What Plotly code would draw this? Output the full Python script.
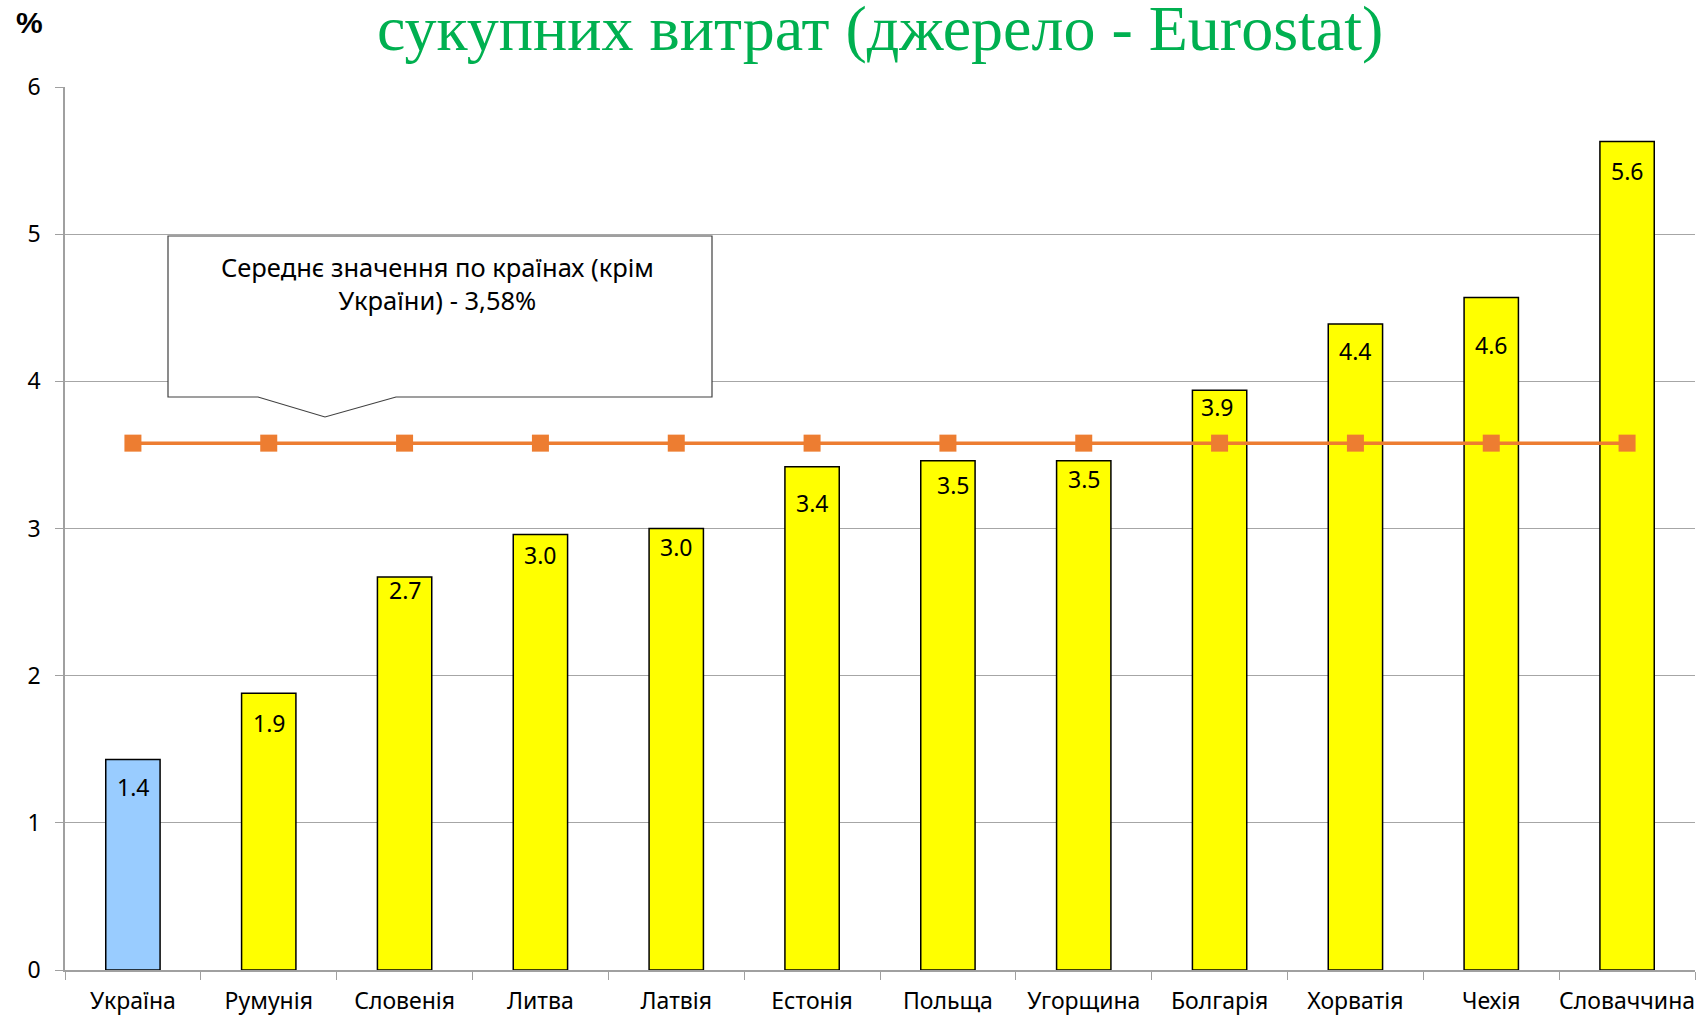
import plotly.graph_objects as go

countries = ["Україна", "Румунія", "Словенія", "Литва", "Латвія", "Естонія",
             "Польща", "Угорщина", "Болгарія", "Хорватія", "Чехія", "Словаччина"]
values = [1.43, 1.88, 2.67, 2.96, 3.0, 3.42, 3.46, 3.46, 3.94, 4.39, 4.57, 5.63]
labels = ["1.4", "1.9", "2.7", "3.0", "3.0", "3.4", "3.5", "3.5", "3.9", "4.4", "4.6", "5.6"]
bar_colors = ["#99CCFF"] + ["#FFFF00"] * 11
avg_value = 3.58
avg_line = [avg_value] * len(countries)
title_text = "сукупних витрат (джерело - Eurostat)"
callout_text = "Середнє значення по країнах (крім<br>України) - 3,58%"

# per-label pixel offsets (label placement inside bars, as in the original)
label_dy = [-27, -30, -13, -21, -18, -36, -24, -18, -17, -27, -48, -30]
label_dx = [0, 0, 0, 0, 0, 0, 5, 0, -3, 0, 0, 0]

W, H = 1700, 1019
L, R, T, B = 65, 5, 87, 49
pw, ph = W - L - R, H - T - B

def px(x):
    return (x - L) / pw

def py(y):
    return (H - B - y) / ph

fig = go.Figure()
fig.add_trace(go.Bar(
    x=countries, y=values,
    marker=dict(color=bar_colors, line=dict(color="black", width=1.5)),
    showlegend=False,
))
fig.add_trace(go.Scatter(
    x=countries, y=avg_line, mode="lines+markers",
    line=dict(color="#ED7D31", width=3.5),
    marker=dict(symbol="square", size=17, color="#ED7D31"),
    showlegend=False,
))

# value labels inside bars, near the top
for c, v, t, dy, dx in zip(countries, values, labels, label_dy, label_dx):
    fig.add_annotation(x=c, y=v, xref="x", yref="y", text=t, showarrow=False,
                       xanchor="center", yanchor="middle", yshift=dy, xshift=dx,
                       font=dict(family="Noto Sans, sans-serif", size=23, color="black"))

# callout box with pointer
x0, x1, y0, y1 = px(168), px(712), py(236), py(397)
pa, pb, pc, pt = px(258), px(325), px(396), py(417)
path = (f"M {x0},{y0} L {x1},{y0} L {x1},{y1} L {pc},{y1} L {pb},{pt} "
        f"L {pa},{y1} L {x0},{y1} Z")
fig.add_shape(type="path", path=path, xref="paper", yref="paper",
              line=dict(color="#404040", width=1.2), fillcolor="white", layer="above")
fig.add_annotation(x=px(437), y=py(283), xref="paper", yref="paper",
                   xanchor="center", yanchor="middle",
                   text=callout_text, showarrow=False, align="center",
                   font=dict(family="Noto Sans, sans-serif", size=25.5, color="black"))

fig.add_annotation(x=px(880), y=py(28), xref="paper", yref="paper",
                   text=title_text, showarrow=False, xanchor="center", yanchor="middle",
                   font=dict(family="Liberation Serif, serif", size=64, color="#00B050"))
fig.add_annotation(x=px(14), y=py(4), xref="paper", yref="paper",
                   text="<b>%</b>", showarrow=False, xanchor="left", yanchor="top",
                   font=dict(family="Liberation Sans, sans-serif", size=30, color="black"))

fig.update_layout(
    width=W, height=H, margin=dict(l=L, r=R, t=T, b=B, autoexpand=False),
    plot_bgcolor="white", paper_bgcolor="white", bargap=0.6,
    font=dict(family="Noto Sans, sans-serif", size=23, color="black"),
)
fig.update_xaxes(showline=True, linecolor="#A0A0A0", linewidth=1.5, automargin=False,
                 ticks="outside", tickson="boundaries", ticklen=8, tickcolor="#A0A0A0",
                 ticklabelstandoff=10,
                 tickangle=0, tickfont=dict(size=23), showgrid=False, range=[-0.5, 11.5])
fig.update_yaxes(range=[0, 6], dtick=1, showline=True, linecolor="#A0A0A0", linewidth=1.5,
                 automargin=False, ticklabelstandoff=10,
                 gridcolor="#A6A6A6", gridwidth=1.3, ticks="outside", ticklen=8,
                 tickcolor="#A0A0A0", tickfont=dict(size=23), zeroline=False)

fig.write_html("out.html", config={"displayModeBar": False},
               post_script="document.body.style.margin='0';document.body.style.overflow='hidden';")
